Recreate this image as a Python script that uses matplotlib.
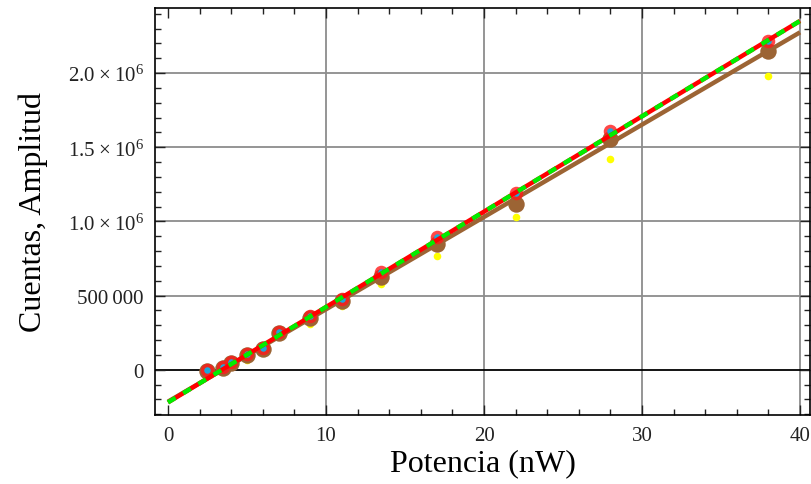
import matplotlib.pyplot as plt
from matplotlib.ticker import MultipleLocator, FuncFormatter
import numpy as np

plt.rcParams['font.family'] = ['Liberation Serif', 'DejaVu Serif']
plt.rcParams['mathtext.fontset'] = 'custom'
plt.rcParams['mathtext.rm'] = 'Liberation Serif'
plt.rcParams['mathtext.it'] = 'Liberation Serif:italic'

# Potencia (nW) for each measurement
potencia = [2.5, 3.5, 4, 5, 6, 7, 9, 11, 13.5, 17, 22, 28, 38]

# Cuentas / amplitud for the three data sets
cuentas_rojo = [0, 20000, 54000, 106000, 144000, 252000, 360000, 477000,
                657000, 893000, 1190000, 1612000, 2218000]
cuentas_cafe = [-5000, 15000, 45000, 100000, 140000, 245000, 350000, 465000,
                625000, 850000, 1117000, 1556000, 2146000]
cuentas_amarillo = [-8000, 10000, 40000, 67000, 125000, 230000, 308000, 430000,
                    578000, 769000, 1028000, 1421000, 1978000]

# linear fits: (intercept, slope)
ajuste_rojo = (-220000, 64300)
ajuste_cafe = (-215000, 62250)
x_ajuste = [0, 40]

BROWN = '#9c6434'

fig = plt.figure(figsize=(8.11, 4.85), dpi=100)
ax = fig.add_axes([155/811, 1 - 416/485, 655/811, 407/485])

ax.set_xlim(-0.82, 40.63)
ax.set_ylim(-305000, 2439000)

# grid and zero line
for gx in [10, 20, 30, 40]:
    ax.axvline(gx, color='#8c8c8c', lw=1.3, zorder=0)
for gy in [500000, 1000000, 1500000, 2000000]:
    ax.axhline(gy, color='#8c8c8c', lw=1.3, zorder=0)
ax.axhline(0, color='black', lw=1.3, zorder=0.5)

xa = np.array(x_ajuste, dtype=float)

ax.scatter(potencia, cuentas_amarillo, s=30, color='#ffff00', zorder=2,
           linewidths=0)
ax.plot(xa, ajuste_cafe[0] + ajuste_cafe[1] * xa, color=BROWN, lw=3.2,
        solid_capstyle='butt', zorder=3)
ax.scatter(potencia, cuentas_cafe, s=140, color=BROWN, zorder=3,
           linewidths=0)
ax.scatter(potencia, cuentas_rojo, s=95, color='#ff1a1a', alpha=0.8,
           linewidths=0, zorder=4)
ax.scatter(potencia, cuentas_rojo, s=22, color='#1aa8dc', linewidths=0,
           zorder=4.5)
ax.plot(xa, ajuste_rojo[0] + ajuste_rojo[1] * xa, color='#ff0000', lw=3.2,
        solid_capstyle='butt', zorder=5)
ax.plot(xa, ajuste_rojo[0] + ajuste_rojo[1] * xa, color='#00ee00', lw=3.2,
        dashes=(2.0, 2.0), dash_capstyle='butt', zorder=6)

# ticks
ax.xaxis.set_major_locator(MultipleLocator(10))
ax.xaxis.set_minor_locator(MultipleLocator(2))
ax.yaxis.set_major_locator(MultipleLocator(500000))
ax.yaxis.set_minor_locator(MultipleLocator(100000))


def fmt_y(v, pos):
    if abs(v) < 1:
        return '0'
    if abs(v - 500000) < 1:
        return '500\u2009000'
    return '%.1f\u2009\u00d7\u200910$^{6}$' % (v / 1e6)


ax.yaxis.set_major_formatter(FuncFormatter(fmt_y))
ax.tick_params(which='both', direction='in', top=True, right=True,
               labelsize=15, colors='#222222', width=1.0)
ax.tick_params(which='major', length=7, pad=8)
ax.tick_params(which='minor', length=4)
for sp in ax.spines.values():
    sp.set_linewidth(1.2)

ax.set_xlabel('Potencia (nW)', fontsize=23, labelpad=2)
ax.set_ylabel('Cuentas, Amplitud', fontsize=23, labelpad=14)

fig.savefig('out.png', dpi=100)
